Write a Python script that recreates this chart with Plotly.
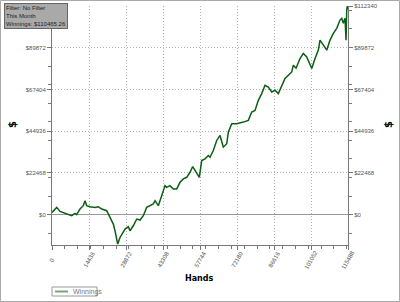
import plotly.graph_objects as go

hands = [0, 1834, 3122, 4409, 6360, 7687, 8975, 9638, 10926, 12213, 12877, 13540, 14828, 16779, 18066,
         19393, 21344, 22632, 23919, 24583, 25246, 25636, 26534, 27822, 28485, 29773, 30436, 31723,
         33050, 34338, 35625, 36952, 38240, 39527, 40191, 41478, 42805, 44093, 44756, 46044, 47331,
         48658, 49946, 51233, 52560, 53848, 54901, 55799, 56462, 57477, 58413, 59701, 60989, 61652,
         62939, 64266, 65554, 66841, 68168, 68793, 70119, 72070, 74646, 76597, 77924, 79211, 80499,
         81826, 83114, 84401, 85728, 87015, 88303, 89630, 90917, 92205, 93532, 94156, 95209, 96770,
         98057, 99384, 100672, 101335, 102623, 103910, 104574, 105861, 107188, 108476, 109763,
         111090, 112378, 113041, 113665, 114329, 114719, 114992, 115226, 115488]
winnings = [1242, 3943, 1782, 1242, 378, -540, 702, 0, 3079, 4861, 7561, 4861, 4321, 3943, 4321,
            3079, 2160, -1458, -5023, -8642, -14043, -15825, -12260, -9560, -7723, -6481, -8642, -5941,
            -2322, -2863, -540, 3943, 4861, 5779, 7561, 4861, 10262, 15663, 14745, 15663, 13881,
            13881, 17445, 19282, 20146, 22846, 25925, 23764, 21982, 20146, 29165, 30084, 31866, 30948,
            34566, 39967, 42668, 36349, 38185, 44450, 48987, 48987, 49851, 50769, 55252, 56170, 61571,
            65190, 69674, 68755, 66055, 66972, 65190, 69674, 73292, 75074, 76857, 80475, 78855, 84094,
            86794, 84958, 81393, 78693, 84094, 88576, 93977, 91277, 88576, 93977, 97598,
            100297, 104779, 105700, 102997, 105700, 93977, 110180, 112340, 110465.26]

x_ticks = [0, 14436, 28872, 43308, 57744, 72180, 86616, 101052, 115488]
x_labels = [str(v) for v in x_ticks]
y_ticks = [0, 22468, 44936, 67404, 89872, 112340]
y_labels = ["$" + str(v) for v in y_ticks]
series_name = "Winnings"

W, H = 400, 302
L, R, T, B = 52, 52, 6, 57
pw, ph = W - L - R, H - T - B

def px(x):
    return (x - L) / pw

def py(y):
    return (H - B - y) / ph

line_color = "#0b5e12"
tick_font = dict(family="Liberation Sans", size=6, color="#555555")

fig = go.Figure()
fig.add_trace(go.Scatter(x=hands, y=winnings, mode="lines", name=series_name, showlegend=False,
                         line=dict(color=line_color, width=1.5)))
fig.add_trace(go.Scatter(x=hands, y=winnings, mode="lines", yaxis="y2", showlegend=False,
                         hoverinfo="skip", line=dict(color="rgba(0,0,0,0)", width=0)))

ymin, ymax = -16300, 112340
axis_common = dict(showline=True, linecolor="#777777", linewidth=1, automargin=False,
                   ticks="outside", ticklen=4, tickcolor="#777777",
                   minor=dict(ticks="outside", ticklen=3, tickcolor="#777777", nticks=5),
                   tickfont=tick_font)

annotations = [
    dict(text="Filter: No Filter<br>This Month<br>Winnings: $110465.26",
         x=px(4), y=py(3), xref="paper", yref="paper", xanchor="left", yanchor="top",
         align="left", showarrow=False, bgcolor="#a9a9a9", bordercolor="#666666",
         borderwidth=1, borderpad=1,
         font=dict(family="Liberation Sans", size=6, color="#222222")),
    dict(text="<b>$</b>", x=px(12), y=py(125), xref="paper", yref="paper",
         xanchor="center", yanchor="middle", showarrow=False, textangle=-90,
         font=dict(family="DejaVu Sans", size=10, color="#000000")),
    dict(text="<b>$</b>", x=px(388), y=py(125), xref="paper", yref="paper",
         xanchor="center", yanchor="middle", showarrow=False, textangle=-90,
         font=dict(family="DejaVu Sans", size=10, color="#000000")),
    dict(text="<b>Hands</b>", x=px(199), y=py(278), xref="paper", yref="paper",
         xanchor="center", yanchor="middle", showarrow=False,
         font=dict(family="DejaVu Sans", size=8, color="#000000")),
    dict(text=series_name, x=px(71), y=py(291.5), xref="paper", yref="paper",
         xanchor="left", yanchor="middle", showarrow=False,
         font=dict(family="Liberation Sans", size=7, color="#777777")),
]
for v, lab in zip(x_ticks, x_labels):
    annotations.append(dict(text=lab, x=v, xref="x", y=py(260), yref="paper",
                            xanchor="center", yanchor="middle",
                            showarrow=False, textangle=-60, font=tick_font))

fig.update_layout(
    width=W, height=H,
    margin=dict(l=L, r=R, t=T, b=B, autoexpand=False),
    paper_bgcolor="white", plot_bgcolor="white",
    xaxis=dict(range=[0, 115488], tickvals=x_ticks, ticktext=x_labels, showticklabels=False,
               showgrid=True, gridcolor="#b0b0b0", griddash="1px,2px",
               zeroline=False, **axis_common),
    yaxis=dict(range=[ymin, ymax], tickvals=y_ticks, ticktext=y_labels,
               showgrid=True, gridcolor="#b0b0b0", griddash="1px,2px",
               zeroline=True, zerolinecolor="#999999", zerolinewidth=1, **axis_common),
    yaxis2=dict(range=[ymin, ymax], tickvals=y_ticks, ticktext=y_labels, overlaying="y",
                side="right", showgrid=False, zeroline=False, **axis_common),
    showlegend=False,
    annotations=annotations,
    shapes=[
        dict(type="rect", xref="paper", yref="paper",
             x0=px(0.5), x1=px(399.5), y0=py(301.5), y1=py(0.5),
             line=dict(color="#aaaaaa", width=1), layer="below"),
        dict(type="rect", xref="paper", yref="paper",
             x0=px(52), x1=px(97), y0=py(296), y1=py(287),
             line=dict(color="#999999", width=1), fillcolor="rgba(0,0,0,0)", layer="below"),
        dict(type="line", xref="paper", yref="paper",
             x0=px(55), x1=px(68), y0=py(291.5), y1=py(291.5),
             line=dict(color="#7aa67a", width=2)),
    ],
)

fig.write_html("out.html")
